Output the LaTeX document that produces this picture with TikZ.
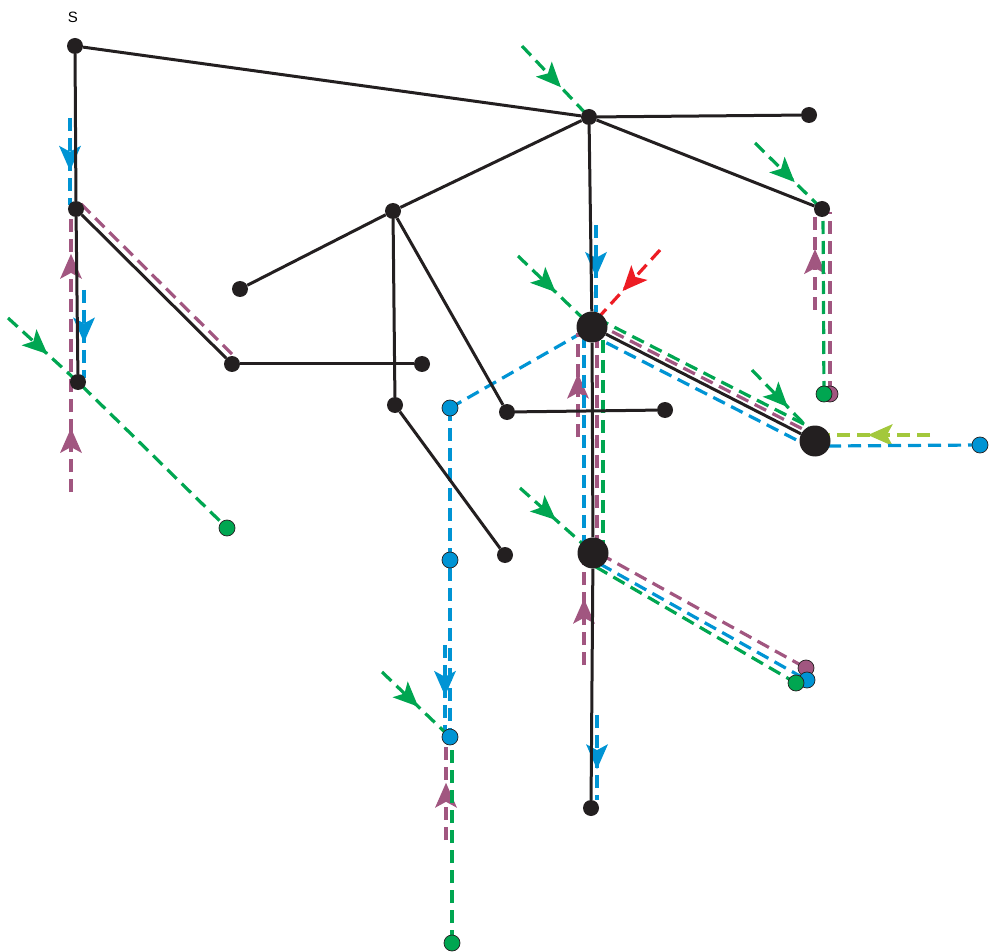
\documentclass[tikz,border=0pt]{standalone}
\usepackage{fontspec}
\newfontfamily\labfont{Liberation Sans}
\usetikzlibrary{arrows.meta,decorations.markings}
\definecolor{blk}{RGB}{35,31,32}
\definecolor{cblue}{RGB}{0,148,212}
\definecolor{cgreen}{RGB}{0,166,81}
\definecolor{cpurple}{RGB}{161,86,128}
\definecolor{cred}{RGB}{237,28,36}
\definecolor{cyg}{RGB}{163,200,60}
\pgfdeclarelayer{bg}
\pgfsetlayers{bg,main}
\tikzset{
  x=1pt,y=1pt,
  dot/.style={circle, fill=blk, inner sep=0pt, minimum size=16pt},
  bigdot/.style={circle, fill=blk, inner sep=0pt, minimum size=31pt},
  cdot/.style={circle, fill=#1, draw=blk, line width=0.7pt, inner sep=0pt, minimum size=16pt},
  edge/.style={draw=blk, line width=3pt},
  flow/.style={line width=3.2pt, dash pattern=on 13pt off 7pt},
  arrowat/.style={postaction={decorate, decoration={markings, mark=at position #1 with {\fill[solid] (4pt,0pt) -- (-21pt,11pt) -- (-15pt,0pt) -- (-21pt,-11pt) -- cycle;}}}},
}
\begin{document}
\begin{tikzpicture}
\useasboundingbox (0,0) rectangle (989,-952);
% black nodes
\node[dot] (S) at (75,-46) {};
\node[dot] (A) at (589,-117) {};
\node[dot] (B) at (809,-115) {};
\node[dot] (C) at (822,-209) {};
\node[dot] (D) at (76,-209) {};
\node[dot] (E) at (393,-211) {};
\node[dot] (F) at (240,-289) {};
\node[dot] (G) at (232,-364) {};
\node[dot] (H) at (422,-364) {};
\node[dot] (I) at (78,-382) {};
\node[dot] (J) at (395,-405) {};
\node[dot] (K) at (507,-412) {};
\node[dot] (L) at (665,-410) {};
\node[dot] (M) at (505,-555) {};
\node[dot] (N) at (591,-808) {};
\node[bigdot] (P1) at (592,-327) {};
\node[bigdot] (P2) at (815,-441) {};
\node[bigdot] (P3) at (593,-553) {};
\node[font=\labfont\fontsize{15}{18}\selectfont] (lS) at (73,-17) {S};
% coloured nodes
\node[cdot=cgreen] (g1) at (227,-528) {};
\node[cdot=cblue] (b1) at (450,-408) {};
\node[cdot=cblue] (b2) at (450,-560) {};
\node[cdot=cblue] (b3) at (450,-737) {};
\node[cdot=cgreen] (g2) at (452,-943) {};
\node[cdot=cblue] (b4) at (980,-445) {};
\node[cdot=cpurple] (p1) at (830,-394) {};
\node[cdot=cgreen] (g3) at (824,-394) {};
\node[cdot=cpurple] (p2) at (806,-668) {};
\node[cdot=cblue] (b5) at (807,-680) {};
\node[cdot=cgreen] (g4) at (796,-683) {};
% free ends
\coordinate (bl1a) at (70,-118); \coordinate (bl1b) at (70,-205);
\coordinate (bl2a) at (84,-290); \coordinate (bl2b) at (84,-378);
\coordinate (pu1a) at (71,-492); \coordinate (pu1b) at (71,-212);
\coordinate (pu2a) at (81,-204); \coordinate (pu2b) at (237,-359);
\coordinate (gr1a) at (8,-318);
\coordinate (gr2a) at (522,-46);
\coordinate (gr3a) at (755,-143);
\coordinate (pu3a) at (815,-310); \coordinate (pu3b) at (815,-212);
\coordinate (pu4b) at (830,-212); \coordinate (gr4b) at (823,-212);
\coordinate (rd1a) at (660,-250); \coordinate (rd1b) at (598,-318);
\coordinate (bl3a) at (596,-225); \coordinate (bl3b) at (596,-312);
\coordinate (gr5a) at (518,-256);
\coordinate (pu5a) at (578,-437); \coordinate (pu5b) at (578,-333);
\coordinate (bl5a) at (584,-335); \coordinate (bl5b) at (584,-545);
\coordinate (pu6a) at (597,-335); \coordinate (pu6b) at (597,-545);
\coordinate (gr6a) at (603,-340); \coordinate (gr6b) at (603,-545);
\coordinate (gr7a) at (752,-370); \coordinate (gr7b) at (808,-428);
\coordinate (yga) at (930,-435); \coordinate (ygb) at (828,-435);
\coordinate (bl6a) at (828,-446);
\coordinate (gr8a) at (520,-488);
\coordinate (pu7a) at (600,-554);
\coordinate (bl7a) at (600,-564);
\coordinate (gr9a) at (596,-567);
\coordinate (pu8a) at (584,-665); \coordinate (pu8b) at (584,-563);
\coordinate (bl8a) at (597,-715); \coordinate (bl8b) at (597,-800);
\coordinate (bl9a) at (445,-645); \coordinate (bl9b) at (445,-735);
\coordinate (gr10a) at (382,-672);
\coordinate (pu9a) at (446,-840); \coordinate (pu9b) at (446,-745);
\coordinate (gr11b) at (452,-737);
\begin{pgfonlayer}{bg}
% coloured flows
\draw[flow, cblue, arrowat=0.56] (bl1a) -- (bl1b);
\draw[flow, cblue, arrowat=0.55] (bl2a) -- (bl2b);
\draw[flow, cpurple, arrowat=0.214, arrowat=0.836] (pu1a) -- (pu1b);
\draw[flow, cpurple] (pu2a) -- (pu2b);
\draw[flow, cgreen, arrowat=0.163] (gr1a) -- (I.center) -- (g1.center);
\draw[flow, cgreen, arrowat=0.54] (gr2a) -- (A.center);
\draw[flow, cgreen, arrowat=0.55] (gr3a) -- (C.center);
\draw[flow, cpurple, arrowat=0.58] (pu3a) -- (pu3b);
\draw[flow, cpurple] (p1.center) -- (pu4b);
\draw[flow, cgreen] (g3.center) -- (gr4b);
\draw[flow, cred, arrowat=0.56] (rd1a) -- (rd1b);
\draw[flow, cblue, arrowat=0.55] (bl3a) -- (bl3b);
\draw[flow, cgreen, arrowat=0.47] (gr5a) -- (P1.center);
\draw[flow, cblue] (b1.center) -- (P1.center);
\draw[flow, cgreen] ([shift={(4.6,8.9)}]P1.center) -- ([shift={(4.6,8.9)}]P2.center);
\draw[flow, cpurple] ([shift={(2.3,4.5)}]P1.center) -- ([shift={(2.3,4.5)}]P2.center);
\draw[flow, cblue] ([shift={(-3.4,-6.7)}]P1.center) -- ([shift={(-3.4,-6.7)}]P2.center);
\draw[flow, cpurple, arrowat=0.57] (pu5a) -- (pu5b);
\draw[flow, cblue] (bl5a) -- (bl5b);
\draw[flow, cpurple] (pu6a) -- (pu6b);
\draw[flow, cgreen] (gr6a) -- (gr6b);
\draw[flow, cgreen, arrowat=0.59] (gr7a) -- (gr7b);
\draw[flow, cyg, arrowat=0.57] (yga) -- (ygb);
\draw[flow, cblue] (bl6a) -- (b4.center);
\draw[flow, cgreen, arrowat=0.45] (gr8a) -- (P3.center);
\draw[flow, cpurple] (pu7a) -- (p2.center);
\draw[flow, cblue] (bl7a) -- (b5.center);
\draw[flow, cgreen] (gr9a) -- (g4.center);
\draw[flow, cpurple, arrowat=0.61] (pu8a) -- (pu8b);
\draw[flow, cblue, arrowat=0.59] (bl8a) -- (bl8b);
\draw[flow, cblue] (b1.center) -- (b2.center) -- (b3.center);
\draw[flow, cblue, arrowat=0.52] (bl9a) -- (bl9b);
\draw[flow, cgreen, arrowat=0.49] (gr10a) -- (b3.center);
\draw[flow, cpurple, arrowat=0.56] (pu9a) -- (pu9b);
\draw[flow, cgreen] (g2.center) -- (gr11b);
% black network
\draw[edge] (S) -- (A);
\draw[edge] (S) -- (D);
\draw[edge] (D) -- (I);
\draw[edge] (D) -- (G);
\draw[edge] (G) -- (H);
\draw[edge] (A) -- (B);
\draw[edge] (A) -- (C);
\draw[edge] (A) -- (E);
\draw[edge] (E) -- (F);
\draw[edge] (E) -- (J);
\draw[edge] (E) -- (K);
\draw[edge] (J) -- (M);
\draw[edge] (K) -- (L);
\draw[edge] (A) -- (P1);
\draw[edge] (P1) -- (P3);
\draw[edge] (P3) -- (N);
\draw[edge] (P1) -- (P2);
\end{pgfonlayer}
\end{tikzpicture}
\end{document}
